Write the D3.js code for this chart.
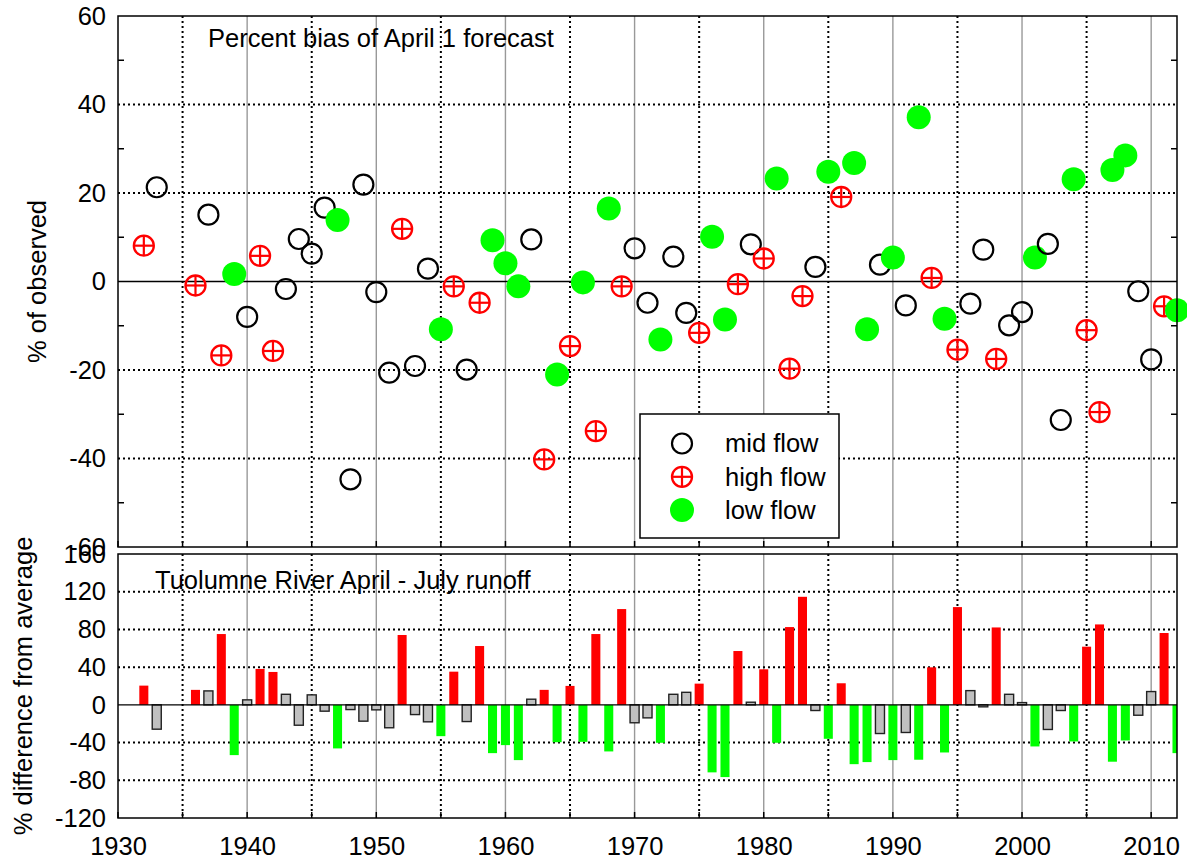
<!DOCTYPE html>
<html>
<head>
<meta charset="utf-8">
<script src="https://cdn.jsdelivr.net/npm/d3@7"></script>
<style>
  html, body { margin: 0; padding: 0; background: #fff; }
  svg { display: block; font-family: "Liberation Sans", Arial, Helvetica, sans-serif; }
</style>
</head>
<body>
<svg id="chart" width="1187" height="863"></svg>
<script>
// ---------- DATA ----------
const years = [1932,1933,1936,1937,1938,1939,1940,1941,1942,1943,1944,1945,1946,1947,1948,1949,1950,1951,1952,1953,
  1954,1955,1956,1957,1958,1959,1960,1961,1962,1963,1964,1965,1966,1967,1968,1969,1970,1971,1972,1973,
  1974,1975,1976,1977,1978,1979,1980,1981,1982,1983,1984,1985,1986,1987,1988,1989,1990,1991,1992,1993,
  1994,1995,1996,1997,1998,1999,2000,2001,2002,2003,2004,2005,2006,2007,2008,2009,2010,2011,2012];

// percent bias of April 1 forecast (% of observed)
const bias = [8.1,21.3,-0.9,15.1,-16.7,1.7,-8.0,5.8,-15.7,-1.7,9.6,6.3,16.7,13.9,-44.7,21.9,-2.4,-20.6,11.9,-19.1,
  2.9,-10.8,-1.1,-19.9,-4.8,9.3,4.1,-1.1,9.5,-40.2,-21.0,-14.6,-0.2,-33.8,16.5,-1.1,7.5,-4.8,-13.1,5.6,
  -7.1,-11.6,10.1,-8.6,-0.6,8.4,5.2,23.3,-19.7,-3.3,3.3,24.8,19.1,26.8,-10.8,3.8,5.4,-5.4,37.1,0.8,
  -8.4,-15.4,-5.0,7.2,-17.5,-9.9,-6.9,5.4,8.5,-31.3,23.1,-11.0,-29.5,25.2,28.5,-2.2,-17.6,-5.6,-6.5];

// Tuolumne River April - July runoff, % difference from average
const runoff = [20.4,-25.8,15.9,14.8,75.1,-53.3,5.3,38.1,34.9,11.2,-21.6,10.6,-6.7,-46.2,-5.0,-17.3,-5.3,-24.3,74.1,-10.3,
  -18.0,-33.2,35.2,-17.7,62.4,-51.2,-42.7,-58.6,6.0,15.9,-39.6,20.1,-39.2,75.1,-49.4,101.6,-19.0,-13.8,-40.2,11.2,
  13.3,22.5,-71.6,-76.6,57.1,2.8,37.7,-40.2,82.5,114.6,-6.0,-36.0,22.9,-62.9,-60.7,-30.4,-58.6,-29.3,-58.2,39.8,
  -50.5,103.7,15.1,-2.1,82.1,11.2,2.4,-44.1,-26.1,-6.0,-38.8,61.7,85.3,-60.3,-37.8,-11.0,14.1,76.2,-51.2];

// flow class: M = mid, H = high, L = low
const flowClass = ["H","M","H","M","H","L","M","H","H","M","M","M","M","L","M","M","M","M","H","M",
  "M","L","H","M","H","L","L","L","M","H","L","H","L","H","L","H","M","M","L","M",
  "M","H","L","L","H","M","H","L","H","H","M","L","H","L","L","M","L","M","L","H",
  "L","H","M","M","H","M","M","L","M","M","L","H","H","L","L","M","M","H","L"];

const topTicks = [60,40,20,0,-20,-40,-60];
const topMinor = [50,30,10,-10,-30,-50];
const botTicks = [160,120,80,40,0,-40,-80,-120];
const xTicks = [1930,1940,1950,1960,1970,1980,1990,2000,2010];
const xMidTicks = [1935,1945,1955,1965,1975,1985,1995,2005];

const legendItems = [{k:"M", label:"mid flow"},{k:"H", label:"high flow"},{k:"L", label:"low flow"}];
const topTitle = "Percent bias of April 1 forecast";
const botTitle = "Tuolumne River April - July runoff";

// ---------- LAYOUT ----------
const L = 118, R = 1177;
const T1 = 16, B1 = 547, T2 = 554, B2 = 818;
const FS = 25.5;

const svg = d3.select("#chart");
const x = d3.scaleLinear().domain([1930, 2012]).range([L, R]);
const yT = d3.scaleLinear().domain([-60, 60]).range([B1, T1]);
const yB = d3.scaleLinear().domain([-120, 160]).range([B2, T2]);
const fmt = d => String(d);

const data = years.map((y, i) => ({year: y, bias: bias[i], run: runoff[i], c: flowClass[i]}));

svg.append("defs").append("clipPath").attr("id", "clipB")
  .append("rect").attr("x", L).attr("y", T2).attr("width", R - L).attr("height", B2 - T2);

function grid(g, yScale, yTicksArr, top, bottom) {
  g.selectAll(".vg").data(xTicks.filter(d => d > 1930)).join("line")
    .attr("x1", d => x(d)).attr("x2", d => x(d)).attr("y1", top).attr("y2", bottom)
    .attr("stroke", "#999").attr("stroke-width", 1.4);
  g.selectAll(".vd").data(xMidTicks).join("line")
    .attr("x1", d => x(d)).attr("x2", d => x(d)).attr("y1", top).attr("y2", bottom)
    .attr("stroke", "#000").attr("stroke-width", 2).attr("stroke-dasharray", "2,3");
  g.selectAll(".hd").data(yTicksArr.filter(d => d !== 0 && yScale(d) > top + 1 && yScale(d) < bottom - 1)).join("line")
    .attr("x1", L).attr("x2", R).attr("y1", d => yScale(d)).attr("y2", d => yScale(d))
    .attr("stroke", "#000").attr("stroke-width", 2).attr("stroke-dasharray", "2,3");
  g.selectAll(".xt").data(xMidTicks.concat(xTicks)).join("line")
    .attr("x1", d => x(d)).attr("x2", d => x(d)).attr("y1", bottom).attr("y2", bottom - 6)
    .attr("stroke", "#000").attr("stroke-width", 1.5);
}

// ---------- TOP PANEL ----------
const gT = svg.append("g");
grid(gT, yT, topTicks, T1, B1);
gT.selectAll(".mtl").data(topMinor).join("line")
  .attr("x1", L).attr("x2", L + 6).attr("y1", d => yT(d)).attr("y2", d => yT(d))
  .attr("stroke", "#000").attr("stroke-width", 1.5);
gT.selectAll(".mtr").data(topMinor).join("line")
  .attr("x1", R - 6).attr("x2", R).attr("y1", d => yT(d)).attr("y2", d => yT(d))
  .attr("stroke", "#000").attr("stroke-width", 1.5);
gT.append("line").attr("x1", L).attr("x2", R).attr("y1", yT(0)).attr("y2", yT(0))
  .attr("stroke", "#000").attr("stroke-width", 1.4);

function drawMarker(g, cls, cx, cy) {
  if (cls === "M") {
    g.append("circle").attr("cx", cx).attr("cy", cy).attr("r", 10)
      .attr("fill", "none").attr("stroke", "#000").attr("stroke-width", 2.2);
  } else if (cls === "H") {
    g.append("circle").attr("cx", cx).attr("cy", cy).attr("r", 10)
      .attr("fill", "none").attr("stroke", "#ff0000").attr("stroke-width", 2.3);
    g.append("line").attr("x1", cx - 10).attr("x2", cx + 10).attr("y1", cy).attr("y2", cy)
      .attr("stroke", "#ff0000").attr("stroke-width", 2.2);
    g.append("line").attr("x1", cx).attr("x2", cx).attr("y1", cy - 10).attr("y2", cy + 10)
      .attr("stroke", "#ff0000").attr("stroke-width", 2.2);
  } else {
    g.append("circle").attr("cx", cx).attr("cy", cy).attr("r", 12)
      .attr("fill", "#00ff00").attr("stroke", "none");
  }
}
const gPts = gT.append("g");
data.forEach(d => drawMarker(gPts, d.c, x(d.year), yT(d.bias)));

// legend
const gLeg = svg.append("g");
gLeg.append("rect").attr("x", 640).attr("y", 414).attr("width", 199).attr("height", 124)
  .attr("fill", "#fff").attr("stroke", "#000").attr("stroke-width", 1.5);
legendItems.forEach((it, i) => {
  const cy = 443.5 + i * 33.3;
  drawMarker(gLeg, it.k, 682, cy);
  gLeg.append("text").attr("x", 725).attr("y", cy).attr("dy", "0.35em")
    .attr("font-size", FS).attr("fill", "#000").text(it.label);
});

gT.append("rect").attr("x", L).attr("y", T1).attr("width", R - L).attr("height", B1 - T1)
  .attr("fill", "none").attr("stroke", "#000").attr("stroke-width", 1.5);

const axT = svg.append("g").attr("transform", `translate(${L},0)`)
  .call(d3.axisLeft(yT).tickValues(topTicks).tickSize(0).tickPadding(12).tickFormat(fmt));
axT.select(".domain").remove();
axT.selectAll("text").attr("font-size", FS).attr("font-family", null).attr("fill", "#000");

svg.append("text").attr("x", 208).attr("y", 47).attr("font-size", FS).text(topTitle);
svg.append("text").attr("transform", `translate(46,${(T1 + B1) / 2}) rotate(-90)`)
  .attr("text-anchor", "middle").attr("font-size", FS).text("% of observed");

// ---------- BOTTOM PANEL ----------
const gB = svg.append("g");
grid(gB, yB, botTicks, T2, B2);

const colorOf = c => c === "H" ? "#ff0000" : c === "L" ? "#00ff00" : "#c0c0c0";
const bw = 0.7 * (x(1931) - x(1930));
gB.append("g").attr("clip-path", "url(#clipB)")
  .selectAll("rect").data(data).join("rect")
  .attr("x", d => x(d.year) - bw / 2)
  .attr("width", bw)
  .attr("y", d => yB(Math.max(0, d.run)))
  .attr("height", d => Math.abs(yB(d.run) - yB(0)))
  .attr("fill", d => colorOf(d.c))
  .attr("stroke", d => d.c === "M" ? "#222" : "none")
  .attr("stroke-width", 1.4);

gB.append("line").attr("x1", L).attr("x2", R).attr("y1", yB(0)).attr("y2", yB(0))
  .attr("stroke", "#000").attr("stroke-width", 1.4);

gB.append("rect").attr("x", L).attr("y", T2).attr("width", R - L).attr("height", B2 - T2)
  .attr("fill", "none").attr("stroke", "#000").attr("stroke-width", 1.5);

const axB = svg.append("g").attr("transform", `translate(${L},0)`)
  .call(d3.axisLeft(yB).tickValues(botTicks).tickSize(0).tickPadding(12).tickFormat(fmt));
axB.select(".domain").remove();
axB.selectAll("text").attr("font-size", FS).attr("font-family", null).attr("fill", "#000");

const axX = svg.append("g").attr("transform", `translate(0,${B2})`)
  .call(d3.axisBottom(x).tickValues(xTicks).tickSize(0).tickPadding(19).tickFormat(fmt));
axX.select(".domain").remove();
axX.selectAll("text").attr("font-size", FS).attr("font-family", null).attr("fill", "#000");

svg.append("text").attr("x", 155).attr("y", 589).attr("font-size", FS).text(botTitle);
svg.append("text").attr("transform", `translate(32,${(T2 + B2) / 2}) rotate(-90)`)
  .attr("text-anchor", "middle").attr("font-size", FS).text("% difference from average");
</script>
</body>
</html>
